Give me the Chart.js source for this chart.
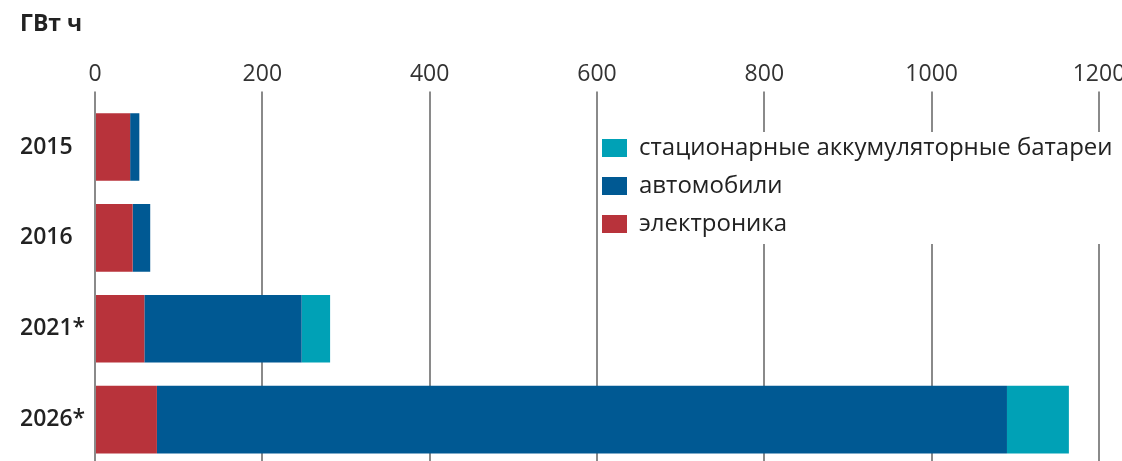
<!DOCTYPE html>
<html>
<head>
<meta charset="utf-8">
<script src="https://cdn.jsdelivr.net/npm/chart.js@4.4.1/dist/chart.umd.min.js"></script>
<style>
  html, body { margin: 0; padding: 0; background: #fff; overflow: hidden; }
  #wrap { position: relative; width: 1122px; height: 465px; }
</style>
</head>
<body>
<div id="wrap"><canvas id="chart"></canvas></div>
<script>
// values, ГВт ч
const years = ['2015', '2016', '2021*', '2026*'];
const electronics = [42, 45, 59, 74];
const cars = [11, 21, 188, 1016];
const stationary = [0, 0, 34, 74];
const xTicks = [0, 200, 400, 600, 800, 1000, 1200];

const FONT = '"Open Sans", "Noto Sans", sans-serif';
const colors = { electronics: '#b8333b', cars: '#005993', stationary: '#00a1b6' };

// legend sits in a white box over the grid, listed top-down in reverse stack order
const boxLegend = {
  id: 'boxLegend',
  afterDraw(chart) {
    const ctx = chart.ctx;
    const items = chart.data.datasets.slice().reverse();
    ctx.save();
    ctx.fillStyle = '#fff';
    ctx.fillRect(600, 132, 522, 112);
    ctx.font = `24px ${FONT}`;
    ctx.textBaseline = 'middle';
    items.forEach((ds, i) => {
      const y = 148 + i * 38;
      ctx.fillStyle = ds.backgroundColor;
      ctx.fillRect(602, y - 9, 25, 18);
      ctx.fillStyle = '#222';
      ctx.fillText(ds.label, 639, y);
    });
    ctx.restore();
  },
};

new Chart(document.getElementById('chart'), {
  type: 'bar',
  data: {
    labels: years,
    datasets: [
      { label: 'электроника', data: electronics, backgroundColor: colors.electronics },
      { label: 'автомобили', data: cars, backgroundColor: colors.cars },
      { label: 'стационарные аккумуляторные батареи', data: stationary, backgroundColor: colors.stationary },
    ],
  },
  options: {
    indexAxis: 'y',
    responsive: true,
    maintainAspectRatio: false,
    animation: false,
    categoryPercentage: 1,
    barPercentage: 0.745,
    layout: { padding: { left: 20, right: 23, top: 0, bottom: 0 } },
    scales: {
      x: {
        position: 'top',
        stacked: true,
        min: 0,
        max: 1200,
        afterBuildTicks: (s) => { s.ticks = xTicks.map((v) => ({ value: v })); },
        afterFit: (s) => { s.height = 53; s.paddingLeft = 0; s.paddingRight = 0; },
        border: { display: false },
        grid: { color: '#8a8a8a', lineWidth: 2, drawTicks: true, tickLength: 10, tickColor: '#8a8a8a' },
        ticks: { color: '#333', font: { family: FONT, size: 23 }, padding: 3, callback: (v) => String(v) },
      },
      y: {
        stacked: true,
        afterFit: (s) => { s.width = 75; s.paddingTop = 0; s.paddingBottom = 0; },
        border: { display: false },
        grid: { display: false },
        ticks: { color: '#222', crossAlign: 'far', font: { family: FONT, size: 23, weight: '600' } },
      },
    },
    plugins: {
      legend: { display: false },
      tooltip: { enabled: false },
      title: {
        display: true,
        text: 'ГВт ч',
        align: 'start',
        color: '#222',
        font: { family: FONT, size: 23, weight: 'bold' },
        padding: { top: 11, bottom: 10 },
      },
    },
  },
  plugins: [boxLegend],
});
</script>
</body>
</html>
